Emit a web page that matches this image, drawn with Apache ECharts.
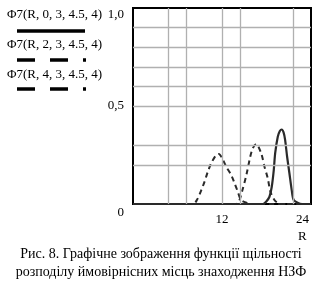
<!DOCTYPE html>
<html>
<head>
<meta charset="utf-8">
<script src="https://cdn.jsdelivr.net/npm/echarts@6/dist/echarts.min.js"></script>
<style>
html,body{margin:0;padding:0;background:#fff;}
#c{width:322px;height:284px;}
</style>
</head>
<body>
<div id="c"></div>
<script>
// ---- data ----
const legendLabels = ['Φ7(R, 0, 3, 4.5, 4)', 'Φ7(R, 2, 3, 4.5, 4)', 'Φ7(R, 4, 3, 4.5, 4)'];

// Φ7(R, 0, 3, 4.5, 4) — solid
const r0 = [0, 17.5, 17.95, 18.4, 18.71, 18.98, 19.17, 19.52, 19.8, 20.05, 20.3, 20.51, 20.78, 21.09, 21.4, 21.67, 22.26, 22.8, 24];
const f0 = [0, 0, 0.012, 0.037, 0.088, 0.173, 0.259, 0.343, 0.372, 0.38, 0.365, 0.327, 0.241, 0.157, 0.071, 0.02, 0.005, 0, 0];

// Φ7(R, 2, 3, 4.5, 4) — dashed
const r2 = [0, 13.8, 14.3, 14.75, 15.3, 15.8, 16.15, 16.6, 17.28, 17.73, 18.17, 18.53, 19.07, 19.5, 20, 24];
const f2 = [0, 0, 0.015, 0.07, 0.15, 0.24, 0.284, 0.306, 0.259, 0.19, 0.131, 0.063, 0.02, 0.006, 0, 0];

// Φ7(R, 4, 3, 4.5, 4) — dashed
const r4 = [0, 8.1, 8.61, 9.21, 9.65, 10.09, 10.55, 11.22, 11.57, 12.03, 12.57, 13.24, 13.69, 14.13, 14.59, 15.48, 16, 24];
const f4 = [0, 0, 0.02, 0.071, 0.114, 0.165, 0.208, 0.25, 0.255, 0.233, 0.19, 0.148, 0.106, 0.063, 0.02, 0.004, 0, 0];

const xTickLabels = {12: '12', 24: '24'};
const yTickLabels = {0: '0', 0.5: '0,5', 1: '1,0'};
const xGridLines = [4.8, 7.2, 12, 14.4, 21.6];
const yGridLines = [0.2, 0.3, 0.5, 0.6, 0.7, 0.8, 0.9];
const axisName = 'R';
const caption = ['Рис. 8. Графічне зображення функції щільності', 'розподілу ймовірнісних місць знаходження НЗФ'];

// ---- chart ----
const FONT = '"Liberation Serif", "Times New Roman", serif';
const pair = (xs, ys) => xs.map((x, i) => [x, ys[i]]);
const curveColor = '#2a2a2a';

const chart = echarts.init(document.getElementById('c'), null, {renderer: 'canvas'});
chart.setOption({
  animation: false,
  backgroundColor: '#fff',
  grid: {left: 133, top: 8, right: 11, bottom: 80, show: true, borderColor: '#000', borderWidth: 2, backgroundColor: 'transparent'},
  xAxis: {
    type: 'value', min: 0, max: 24, interval: 12,
    axisLine: {show: false}, axisTick: {show: false}, splitLine: {show: false},
    axisLabel: {
      margin: 9, color: '#000', fontFamily: FONT, fontSize: 13,
      formatter: v => v === 24 ? '{e|' + xTickLabels[v] + '}' : (xTickLabels[v] || ''),
      rich: {e: {fontFamily: FONT, fontSize: 13, color: '#000', padding: [0, 17, 0, 0]}}
    }
  },
  yAxis: {
    type: 'value', min: 0, max: 1, interval: 0.5,
    axisLine: {show: false}, axisTick: {show: false}, splitLine: {show: false},
    axisLabel: {
      margin: 9, color: '#000', fontFamily: FONT, fontSize: 13,
      formatter: v => v === 0 ? '{z|' + yTickLabels[0] + '}' : (v === 1 ? '{t|' + yTickLabels[1] + '}' : yTickLabels[v]),
      rich: {
        z: {fontFamily: FONT, fontSize: 13, color: '#000', padding: [18, 0, 0, 0]},
        t: {fontFamily: FONT, fontSize: 13, color: '#000', padding: [13, 0, 0, 0]}
      }
    }
  },
  series: [
    {
      type: 'line', data: [], silent: true, symbol: 'none', z: 1,
      markLine: {
        silent: true, symbol: 'none', label: {show: false}, animation: false,
        lineStyle: {color: '#b0b0b0', width: 1.3, type: 'solid'},
        data: xGridLines.map(v => ({xAxis: v})).concat(yGridLines.map(v => ({yAxis: v})))
      }
    },
    {type: 'line', name: legendLabels[2], data: pair(r4, f4), symbol: 'none', smooth: 0.3, z: 3,
     lineStyle: {color: curveColor, width: 2, type: [5, 4]}},
    {type: 'line', name: legendLabels[1], data: pair(r2, f2), symbol: 'none', smooth: 0.3, z: 3,
     lineStyle: {color: curveColor, width: 2, type: [5, 4]}},
    {type: 'line', name: legendLabels[0], data: pair(r0, f0), symbol: 'none', smooth: 0.3, z: 4,
     lineStyle: {color: curveColor, width: 2.2, type: 'solid'}}
  ],
  graphic: [
    {type: 'text', left: 7, top: 8, style: {text: legendLabels[0], font: '13px ' + FONT, fill: '#000'}},
    {type: 'line', shape: {x1: 17, y1: 31, x2: 85, y2: 31}, style: {stroke: '#000', lineWidth: 3.5}},
    {type: 'text', left: 7, top: 38, style: {text: legendLabels[1], font: '13px ' + FONT, fill: '#000'}},
    {type: 'line', shape: {x1: 17, y1: 60, x2: 86, y2: 60}, style: {stroke: '#000', lineWidth: 3.5, lineDash: [18, 15]}},
    {type: 'text', left: 7, top: 68, style: {text: legendLabels[2], font: '13px ' + FONT, fill: '#000'}},
    {type: 'line', shape: {x1: 17, y1: 89, x2: 86, y2: 89}, style: {stroke: '#000', lineWidth: 3.5, lineDash: [18, 15]}},
    {type: 'text', left: 298, top: 230, style: {text: axisName, font: '13px ' + FONT, fill: '#000'}},
    {type: 'text', left: 'center', top: 247, style: {text: caption[0], font: '14px ' + FONT, fill: '#000', textAlign: 'center'}},
    {type: 'text', left: 'center', top: 265, style: {text: caption[1], font: '14px ' + FONT, fill: '#000', textAlign: 'center'}}
  ]
});
</script>
</body>
</html>
